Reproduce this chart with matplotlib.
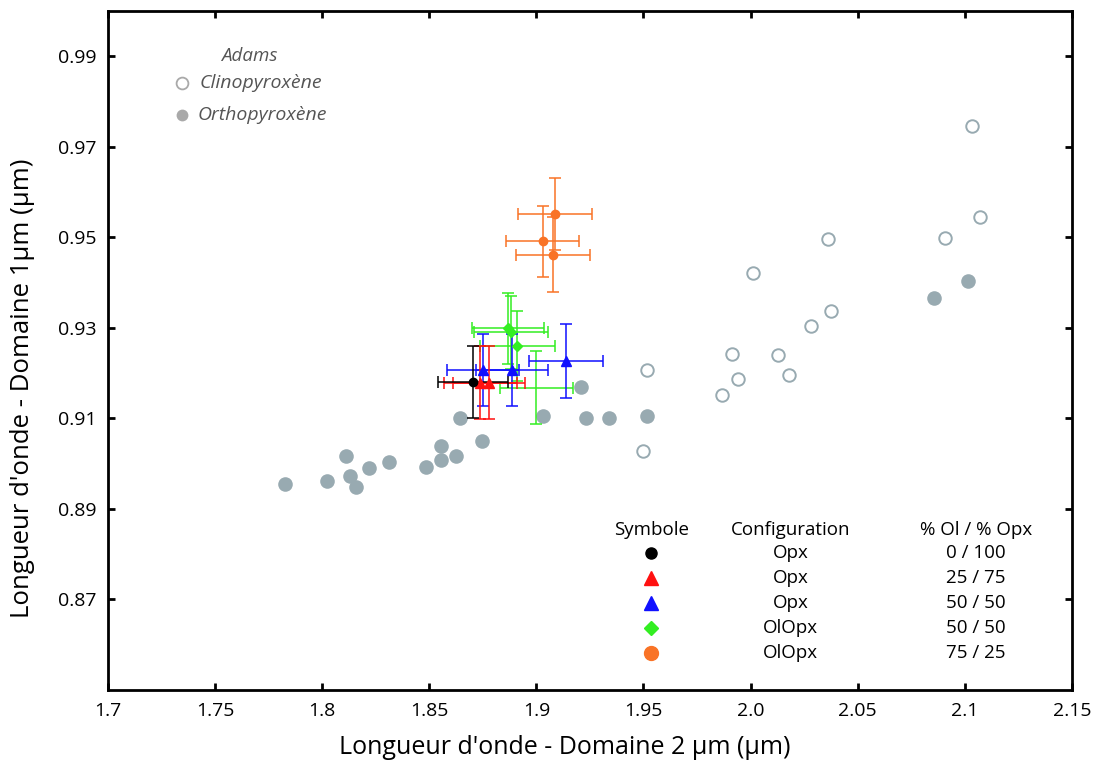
import numpy as np
import matplotlib.pyplot as plt

plt.rcParams['font.family'] = ['Open Sans', 'DejaVu Sans']

# Adams reference data (band centres, µm)
cpx_x = [1.9497, 1.9518, 1.9868, 1.9940, 1.9915, 2.0126, 2.0180, 2.0013, 2.0283,
         2.0374, 2.0362, 2.0909, 2.1069, 2.1035]
cpx_y = [0.9027, 0.9207, 0.9152, 0.9186, 0.9243, 0.9240, 0.9195, 0.9422, 0.9305,
         0.9337, 0.9496, 0.9499, 0.9545, 0.9747]

opx_x = [1.7828, 1.8021, 1.8110, 1.8128, 1.8157, 1.8218, 1.8313, 1.8483, 1.8553,
         1.8553, 1.8627, 1.8644, 1.8745, 1.9033, 1.9208, 1.9233, 1.9341, 1.9516,
         2.0855, 2.1016]
opx_y = [0.8955, 0.8961, 0.9018, 0.8972, 0.8949, 0.8990, 0.9004, 0.8992, 0.9040,
         0.9009, 0.9018, 0.9101, 0.9049, 0.9106, 0.9169, 0.9101, 0.9101, 0.9106,
         0.9365, 0.9404]

# mixtures with error bars
black_x = [1.8704]
black_y = [0.9181]
black_xerr = [0.0164]
black_yerr = [0.0080]

red_x = [1.8738, 1.8778]
red_y = [0.9179, 0.9179]
red_xerr = [0.0170, 0.0168]
red_yerr = [0.0080, 0.0080]

blue_x = [1.8750, 1.8887, 1.9138]
blue_y = [0.9207, 0.9207, 0.9227]
blue_xerr = [0.0169, 0.0169, 0.0171]
blue_yerr = [0.0080, 0.0080, 0.0081]

green_x = [1.8869, 1.8881, 1.8911, 1.9000]
green_y = [0.9299, 0.9290, 0.9260, 0.9168]
green_xerr = [0.0168, 0.0171, 0.0174, 0.0172]
green_yerr = [0.0078, 0.0080, 0.0078, 0.0080]
green_marker = [True, True, True, False]

orange_x = [1.9089, 1.9030, 1.9078]
orange_y = [0.9551, 0.9491, 0.9462]
orange_xerr = [0.0173, 0.0170, 0.0172]
orange_yerr = [0.0080, 0.0079, 0.0082]

legend_config = ['Opx', 'Opx', 'Opx', 'OlOpx', 'OlOpx']
legend_ratio = ['0 / 100', '25 / 75', '50 / 50', '50 / 50', '75 / 25']

xticks = [1.7, 1.75, 1.8, 1.85, 1.9, 1.95, 2.0, 2.05, 2.1, 2.15]
xticklabels = ['1.7', '1.75', '1.8', '1.85', '1.9', '1.95', '2.0', '2.05', '2.1', '2.15']
yticks = [0.87, 0.89, 0.91, 0.93, 0.95, 0.97, 0.99]

grey = '#98aab1'
c_black = '#000000'
c_red = '#ff1010'
c_blue = '#1010ff'
c_green = '#33ee22'
c_orange = '#f97326'

fig = plt.figure(figsize=(10.96, 7.62), dpi=100)
ax = fig.add_axes([0.0985, 0.0945, 0.8795, 0.891])

ax.plot(opx_x, opx_y, 'o', color=grey, markersize=10.5, markeredgewidth=0, zorder=2)
ax.plot(cpx_x, cpx_y, 'o', markerfacecolor='white', markeredgecolor=grey,
        markersize=9, markeredgewidth=1.4, zorder=2)

ebkw = dict(fmt='none', elinewidth=1.1, capsize=4, capthick=1.1, zorder=3)
ax.errorbar(orange_x, orange_y, xerr=orange_xerr, yerr=orange_yerr, ecolor=c_orange, **ebkw)
ax.errorbar(green_x, green_y, xerr=green_xerr, yerr=green_yerr, ecolor=c_green, **ebkw)
ax.errorbar(blue_x, blue_y, xerr=blue_xerr, yerr=blue_yerr, ecolor=c_blue, **ebkw)
ax.errorbar(red_x, red_y, xerr=red_xerr, yerr=red_yerr, ecolor=c_red, **ebkw)
ax.errorbar(black_x, black_y, xerr=black_xerr, yerr=black_yerr, ecolor=c_black, **ebkw)

gx = [x for x, m in zip(green_x, green_marker) if m]
gy = [y for y, m in zip(green_y, green_marker) if m]
ax.plot(orange_x, orange_y, 'o', color=c_orange, markersize=6, zorder=4)
ax.plot(gx, gy, 'D', color=c_green, markersize=5, zorder=4)
ax.plot(blue_x, blue_y, '^', color=c_blue, markersize=7, zorder=4)
ax.plot(red_x, red_y, '^', color=c_red, markersize=7, zorder=4)
ax.plot(black_x, black_y, 'o', color=c_black, markersize=6, zorder=4)

ax.set_xlim(1.7, 2.15)
ax.set_ylim(0.85, 1.0)
ax.set_xticks(xticks)
ax.set_xticklabels(xticklabels)
ax.set_yticks(yticks)
ax.tick_params(direction='in', top=True, right=True, length=5, width=2,
               labelsize=14, pad=8)
ax.tick_params(axis='x', pad=9)
for s in ax.spines.values():
    s.set_linewidth(2)

ax.set_xlabel("Longueur d'onde - Domaine 2 µm (µm)", fontsize=18)
ax.set_ylabel("Longueur d'onde - Domaine 1µm (µm)", fontsize=18.5)
ax.xaxis.set_label_coords(0.474, -0.066)
ax.yaxis.set_label_coords(-0.0757, 0.445)

# Adams legend (top left)
tgrey = '#555555'
ax.text(0.147, 0.9336, 'Adams', transform=ax.transAxes, fontsize=13.5,
        style='italic', color=tgrey, ha='center', va='center')
ax.plot([0.0768], [0.8938], 'o', transform=ax.transAxes, markerfacecolor='white',
        markeredgecolor='#a9a9a9', markersize=8.5, markeredgewidth=1.3)
ax.plot([0.0768], [0.8466], 'o', transform=ax.transAxes, color='#a9a9a9',
        markersize=8.5, markeredgewidth=0)
ax.text(0.095, 0.8938, 'Clinopyroxène', transform=ax.transAxes, fontsize=14,
        style='italic', color=tgrey, ha='left', va='center')
ax.text(0.093, 0.8466, 'Orthopyroxène', transform=ax.transAxes, fontsize=14,
        style='italic', color=tgrey, ha='left', va='center')

# symbol table (bottom right)
col_sym, col_cfg, col_rat = 0.5637, 0.7085, 0.9005
hdr_y = 0.2355
ax.text(col_sym, hdr_y, 'Symbole', transform=ax.transAxes, fontsize=13.5, ha='center', va='center')
ax.text(col_cfg, hdr_y, 'Configuration', transform=ax.transAxes, fontsize=13.5, ha='center', va='center')
ax.text(col_rat, hdr_y, '% Ol / % Opx', transform=ax.transAxes, fontsize=13.5, ha='center', va='center')
row_y = [0.2025, 0.1655, 0.1285, 0.0915, 0.0545]
sym = [('o', c_black, 8), ('^', c_red, 10), ('^', c_blue, 10), ('D', c_green, 7), ('o', c_orange, 10)]
for yy, (m, c, ms), cfg, rat in zip(row_y, sym, legend_config, legend_ratio):
    ax.plot([col_sym], [yy], m, color=c, markersize=ms, transform=ax.transAxes, clip_on=False)
    ax.text(col_cfg, yy, cfg, transform=ax.transAxes, fontsize=13.5, ha='center', va='center')
    ax.text(col_rat, yy, rat, transform=ax.transAxes, fontsize=13.5, ha='center', va='center')

fig.savefig('out.png', dpi=100)
